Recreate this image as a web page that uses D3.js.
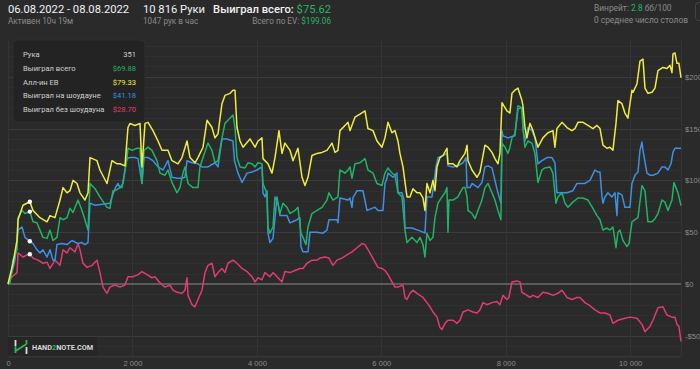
<!DOCTYPE html>
<html>
<head>
<meta charset="utf-8">
<script src="https://cdn.jsdelivr.net/npm/d3@7"></script>
<style>
  body { margin: 0; background: #2a2a2a; }
  svg { display: block; font-family: Roboto, "Noto Sans", sans-serif; }
</style>
</head>
<body>
<svg id="chart" width="700" height="369"></svg>
<script>
// ---------- Data (hands, $) ----------
const allinEv = [
  [0,0],[80,20],[145,42],[161,62],[241,76],[351,79.33],[402,71],[514,64],[627,60],[675,66],[755,64],
  [836,81],[884,93],[948,88],[996,90],[1045,100],[1109,97],[1157,88],[1237,81],[1286,88],[1318,122],
  [1430,119],[1478,110],[1591,97],[1671,119],[1752,116],[1800,116],[1880,114],[1928,151],[1961,155],
  [2041,153],[2121,155],[2153,113],[2202,155],[2250,156],[2330,148],[2411,138],[2475,129],[2571,129],
  [2635,119],[2732,116],[2796,122],[2877,138],[2925,122],[3005,117],[3053,122],[3134,132],[3198,158],
  [3278,151],[3326,141],[3375,145],[3439,174],[3487,182],[3568,184],[3616,187],[3648,187],[3680,151],
  [3729,138],[3777,132],[3889,140],[3970,132],[4018,138],[4082,141],[4098,121],[4178,116],[4243,107],
  [4291,122],[4355,148],[4403,126],[4451,136],[4532,129],[4580,119],[4660,131],[4725,103],[4773,95],
  [4821,103],[4885,124],[4966,126],[5046,127],[5126,129],[5207,136],[5255,127],[5303,129],[5335,148],
  [5416,153],[5464,156],[5496,148],[5576,161],[5657,164],[5737,167],[5785,150],[5866,148],[5930,138],
  [6010,132],[6058,141],[6107,156],[6171,146],[6219,148],[6267,138],[6299,126],[6348,113],[6412,84],
  [6460,84],[6508,92],[6573,88],[6621,88],[6669,83],[6701,71],[6733,97],[6782,88],[6830,100],[6862,90],
  [6894,113],[6942,122],[6991,124],[7055,131],[7071,116],[7152,116],[7216,113],[7264,119],[7345,126],
  [7377,134],[7393,119],[7457,110],[7537,103],[7585,108],[7665,134],[7714,132],[7778,127],[7826,121],
  [7874,116],[7906,126],[7939,175],[8019,167],[8067,165],[8099,184],[8147,187],[8196,189],[8260,177],
  [8276,172],[8308,151],[8340,141],[8388,155],[8437,148],[8517,132],[8597,141],[8678,146],[8758,148],
  [8790,132],[8822,150],[8903,156],[8983,151],[9063,148],[9111,150],[9160,156],[9240,156],[9321,153],
  [9401,150],[9465,153],[9514,150],[9562,134],[9626,131],[9674,132],[9722,129],[9771,155],[9803,177],
  [9867,174],[9915,165],[9963,160],[9996,174],[10028,187],[10044,185],[10108,193],[10157,215],
  [10205,217],[10237,189],[10285,184],[10350,185],[10398,189],[10446,206],[10526,209],[10591,208],
  [10639,211],[10671,204],[10687,222],[10719,223],[10751,213],[10783,213],[10816,199.06]
];

const wonTotal = [
  [0,0],[32,1],[80,23],[145,33],[161,64],[225,71],[273,68],[351,69.88],[402,60],[466,59],[514,52],
  [562,45],[627,44],[675,52],[723,42],[787,45],[836,64],[884,62],[948,64],[996,73],[1045,69],[1125,81],
  [1189,71],[1237,62],[1286,52],[1318,97],[1398,92],[1478,84],[1591,74],[1639,73],[1687,90],[1719,90],
  [1800,93],[1832,93],[1912,122],[1928,131],[1993,129],[2073,131],[2121,131],[2153,97],[2186,129],
  [2250,132],[2314,129],[2394,119],[2443,107],[2523,105],[2571,110],[2635,98],[2716,88],[2764,93],
  [2812,107],[2844,113],[2893,97],[2973,93],[3053,93],[3085,113],[3134,122],[3214,136],[3278,129],
  [3326,117],[3375,119],[3439,141],[3487,155],[3535,158],[3616,163],[3648,151],[3680,122],[3729,113],
  [3809,112],[3857,117],[3921,116],[3970,113],[4018,117],[4082,116],[4098,97],[4130,92],[4162,88],
  [4178,55],[4210,49],[4259,55],[4291,84],[4339,78],[4371,68],[4419,78],[4484,74],[4532,68],[4612,71],
  [4660,74],[4708,49],[4741,45],[4789,38],[4821,55],[4885,68],[4966,71],[5046,74],[5126,81],[5158,88],
  [5223,81],[5303,84],[5335,110],[5416,107],[5464,110],[5496,113],[5528,102],[5576,116],[5657,117],
  [5737,121],[5785,110],[5866,107],[5930,97],[6010,95],[6058,107],[6107,112],[6171,107],[6219,105],
  [6267,88],[6332,84],[6380,52],[6412,40],[6492,45],[6573,40],[6621,45],[6669,38],[6701,26],[6733,49],
  [6782,42],[6830,45],[6862,64],[6910,78],[6974,84],[7023,88],[7055,93],[7071,50],[7087,81],[7152,81],
  [7232,84],[7264,88],[7312,93],[7345,93],[7377,84],[7393,71],[7457,68],[7505,63],[7553,71],[7617,81],
  [7665,93],[7714,97],[7778,88],[7826,81],[7874,71],[7922,62],[7939,136],[7987,132],[8035,126],
  [8067,132],[8099,141],[8147,145],[8196,172],[8260,170],[8276,151],[8308,132],[8356,138],[8420,136],
  [8469,126],[8517,98],[8581,110],[8629,112],[8710,113],[8758,107],[8806,78],[8838,84],[8903,88],
  [8951,78],[8999,74],[9079,79],[9160,83],[9240,83],[9321,81],[9401,73],[9465,66],[9514,62],[9562,52],
  [9626,54],[9674,52],[9722,55],[9755,42],[9771,35],[9803,50],[9835,52],[9883,42],[9947,36],[9980,39],
  [10028,60],[10076,62],[10124,64],[10189,95],[10237,90],[10285,60],[10350,60],[10398,63],[10446,68],
  [10510,81],[10558,79],[10607,71],[10671,81],[10703,98],[10735,93],[10767,88],[10816,75.62]
];

const showdown = [
  [0,0],[64,11],[112,23],[161,52],[225,55],[273,45],[351,41.18],[402,39],[466,33],[514,30],[562,33],
  [627,26],[675,33],[723,23],[755,23],[787,38],[868,39],[948,38],[1028,42],[1125,39],[1189,40],
  [1237,38],[1286,40],[1318,78],[1398,76],[1639,78],[1671,84],[1719,92],[1768,97],[1800,93],[1848,97],
  [1912,121],[1961,122],[2041,122],[2089,121],[2153,97],[2186,122],[2250,122],[2330,119],[2411,113],
  [2491,110],[2571,119],[2635,103],[2716,102],[2796,102],[2844,103],[2877,119],[2957,117],[3053,116],
  [3118,113],[3214,113],[3326,117],[3375,113],[3439,140],[3519,140],[3616,138],[3640,119],[3696,107],
  [3761,98],[3841,107],[3921,108],[4002,110],[4082,113],[4098,88],[4130,84],[4162,90],[4178,49],
  [4210,40],[4259,44],[4323,84],[4371,66],[4484,66],[4532,59],[4644,62],[4692,64],[4708,36],[4741,31],
  [4821,31],[4853,50],[4966,50],[5062,49],[5126,52],[5158,62],[5287,62],[5303,59],[5335,83],[5464,81],
  [5496,83],[5528,74],[5544,83],[5609,90],[5705,90],[5769,71],[5850,73],[5898,74],[5946,71],[6026,71],
  [6058,97],[6091,102],[6107,107],[6187,103],[6251,107],[6267,88],[6332,88],[6364,81],[6380,54],
  [6492,54],[6589,52],[6669,50],[6701,49],[6733,84],[6814,84],[6878,113],[6910,122],[6991,124],
  [7055,126],[7071,114],[7152,113],[7232,114],[7312,117],[7361,122],[7377,93],[7425,93],[7457,97],
  [7553,93],[7617,98],[7665,113],[7714,114],[7778,112],[7826,100],[7874,88],[7922,78],[7939,148],
  [7955,143],[8035,141],[8147,143],[8196,169],[8260,170],[8276,150],[8308,138],[8356,151],[8420,148],
  [8469,141],[8517,116],[8581,119],[8662,122],[8742,122],[8790,117],[8822,88],[8870,88],[8983,88],
  [9079,90],[9144,97],[9192,97],[9272,97],[9353,100],[9433,110],[9481,108],[9514,108],[9546,84],
  [9562,78],[9594,84],[9642,88],[9706,84],[9755,88],[9787,66],[9803,88],[9867,86],[9915,74],[9996,74],
  [10028,97],[10076,105],[10124,108],[10157,129],[10189,137],[10205,129],[10269,107],[10317,105],
  [10366,105],[10446,107],[10510,113],[10558,113],[10607,110],[10655,116],[10687,127],[10719,131],
  [10767,131],[10816,131]
];

const noShowdown = [
  [0,0],[64,7],[145,11],[161,30],[241,26],[305,28],[351,28.70],[402,25],[482,23],[562,20],[627,21],
  [675,15],[755,23],[836,18],[884,33],[948,30],[996,35],[1077,31],[1125,39],[1157,33],[1205,20],
  [1270,16],[1350,18],[1430,23],[1478,11],[1527,-3],[1591,-9],[1639,-3],[1719,-1],[1800,-3],[1880,-1],
  [1928,7],[2009,7],[2089,9],[2153,12],[2234,9],[2314,6],[2362,7],[2443,1],[2523,-3],[2603,-1],
  [2652,-6],[2716,-8],[2796,-9],[2844,-6],[2877,6],[2893,-11],[2957,-20],[3005,-22],[3053,-15],
  [3118,-6],[3166,11],[3214,18],[3278,20],[3326,7],[3375,11],[3439,15],[3487,11],[3535,20],[3616,23],
  [3680,20],[3761,15],[3841,12],[3921,7],[3970,2],[4018,6],[4082,4],[4130,11],[4210,7],[4259,11],
  [4339,6],[4403,2],[4451,12],[4532,11],[4612,13],[4692,15],[4741,15],[4805,20],[4885,23],[4966,23],
  [5014,25],[5094,26],[5158,25],[5223,18],[5287,23],[5367,25],[5448,28],[5528,31],[5609,35],[5689,39],
  [5737,38],[5817,30],[5898,21],[5946,16],[6010,15],[6058,13],[6107,9],[6171,2],[6219,-3],[6267,-3],
  [6348,-1],[6380,-13],[6412,-15],[6460,-9],[6508,-6],[6573,-9],[6621,-11],[6669,-13],[6733,-18],
  [6782,-22],[6830,-27],[6894,-32],[6942,-42],[6974,-44],[7023,-38],[7071,-35],[7152,-35],[7216,-38],
  [7264,-35],[7312,-27],[7393,-25],[7473,-27],[7537,-28],[7585,-25],[7634,-18],[7698,-20],[7778,-18],
  [7858,-17],[7906,-20],[7955,-11],[8019,-15],[8051,-13],[8099,2],[8180,3],[8228,2],[8260,-8],
  [8340,-11],[8388,-13],[8437,-11],[8517,-13],[8597,-8],[8678,-9],[8758,-11],[8838,-9],[8903,-6],
  [8983,-13],[9063,-15],[9144,-13],[9192,-13],[9272,-18],[9353,-21],[9433,-25],[9514,-28],[9594,-28],
  [9674,-30],[9722,-38],[9803,-35],[9915,-33],[9996,-32],[10108,-33],[10189,-39],[10237,-46],
  [10317,-41],[10366,-35],[10446,-23],[10526,-22],[10591,-30],[10671,-32],[10719,-32],[10751,-39],
  [10783,-41],[10816,-55.4]
];

const series = [
  { name: "Выиграл без шоудауна", color: "#e23a72", data: noShowdown },
  { name: "Выиграл на шоудауне", color: "#3d90e2", data: showdown },
  { name: "Выиграл всего", color: "#1fb466", data: wonTotal },
  { name: "Алл-ин EВ", color: "#eeee3e", data: allinEv }
];
const tooltipOrder = ["Выиграл всего", "Алл-ин EВ", "Выиграл на шоудауне", "Выиграл без шоудауна"];
const hoverHand = 351;
const xTicks = [0, 2000, 4000, 6000, 8000, 10000];
const yTicks = [-50, 0, 50, 100, 150, 200];

const header = {
  dates: "06.08.2022 - 08.08.2022", active: "Активен 10ч 19м",
  hands: "10 816 Руки", perHour: "1047 рук в час",
  winrate: "2.8", tables: "0 среднее число столов"
};

// ---------- Setup ----------
const svg = d3.select("#chart");
const W = 700, H = 369;
const plot = { left: 8, right: 681, top: 40.5, bottom: 356.5 };
const GREEN = "#25b56b";

const loc = d3.formatLocale({ decimal: ".", thousands: "\u00a0", grouping: [3], currency: ["$", ""] });
const money = v => (v < 0 ? "-$" : "$") + Math.abs(v).toFixed(2);

const x = d3.scaleLinear().domain([0, 10816]).range([plot.left, plot.right]);
const y = d3.scaleLinear().domain([-70, 235]).range([plot.bottom, plot.top]);

svg.append("rect").attr("width", W).attr("height", H).attr("fill", "#2a2a2a");

// ---------- Grid ----------
const grid = svg.append("g");
grid.selectAll(".minor")
  .data(d3.range(-70, 236, 10).filter(v => v % 50 !== 0))
  .join("line")
  .attr("x1", plot.left).attr("x2", plot.right)
  .attr("y1", d => Math.round(y(d)) + 0.5).attr("y2", d => Math.round(y(d)) + 0.5)
  .attr("stroke", "#303030");

grid.selectAll(".major")
  .data(yTicks.filter(v => v !== 0))
  .join("line")
  .attr("x1", plot.left).attr("x2", plot.right)
  .attr("y1", d => Math.round(y(d)) + 0.5).attr("y2", d => Math.round(y(d)) + 0.5)
  .attr("stroke", "#3c3c3c");

grid.selectAll(".vx")
  .data(xTicks.concat([10816]))
  .join("line")
  .attr("x1", d => Math.round(x(d)) + 0.5).attr("x2", d => Math.round(x(d)) + 0.5)
  .attr("y1", plot.top).attr("y2", plot.bottom)
  .attr("stroke", "#343434");

grid.append("line")
  .attr("x1", plot.left).attr("x2", plot.right)
  .attr("y1", plot.bottom).attr("y2", plot.bottom)
  .attr("stroke", "#343434");

// zero line
grid.append("line")
  .attr("x1", plot.left).attr("x2", plot.right)
  .attr("y1", y(0)).attr("y2", y(0))
  .attr("stroke", "#6c6c6c").attr("stroke-width", 1.6);

// ---------- Axes ----------
const yAxis = svg.append("g")
  .attr("transform", `translate(${plot.right},0)`)
  .call(d3.axisRight(y).tickValues(yTicks).tickSize(0).tickPadding(4)
    .tickFormat(d => (d < 0 ? "-$" : "$") + Math.abs(d)));
const xAxis = svg.append("g")
  .attr("transform", `translate(0,${plot.bottom})`)
  .call(d3.axisBottom(x).tickValues(xTicks).tickSize(0).tickPadding(4).tickFormat(loc.format(",")));

[xAxis, yAxis].forEach(a => {
  a.select(".domain").remove();
  a.selectAll("text").attr("fill", "#8c8c8c").attr("font-size", 7.6);
});

// ---------- Logo ----------
const logo = svg.append("g");
logo.append("rect").attr("x", 8).attr("y", 337).attr("width", 89).attr("height", 19)
  .attr("fill", "#262626");
logo.append("path").attr("d", "M15.5,340 V346 M26.5,347 V354")
  .attr("stroke", "#dddddd").attr("stroke-width", 1.8).attr("fill", "none");
logo.append("path").attr("d", "M15.5,346 V353 M15.5,351 L26.5,344 M26.5,344 V340")
  .attr("stroke", "#2db45f").attr("stroke-width", 1.8).attr("fill", "none");
const lt = logo.append("text").attr("x", 32).attr("y", 350)
  .attr("font-size", 7.3).attr("font-weight", 700).attr("fill", "#d8d8d8");
lt.append("tspan").text("HAND");
lt.append("tspan").attr("fill", "#2db45f").text("2");
lt.append("tspan").text("NOTE.COM");

// ---------- Lines ----------
const line = d3.line().x(d => x(d[0])).y(d => y(d[1]));
svg.append("g").selectAll("path")
  .data(series)
  .join("path")
  .attr("d", d => line(d.data))
  .attr("fill", "none")
  .attr("stroke", d => d.color)
  .attr("stroke-width", 1.5)
  .attr("stroke-linejoin", "round");

// hover dots
const hoverVal = s => s.data.find(p => p[0] === hoverHand)[1];
svg.append("g").selectAll("circle")
  .data(series)
  .join("circle")
  .attr("cx", x(hoverHand))
  .attr("cy", d => y(hoverVal(d)))
  .attr("r", 2.2)
  .attr("fill", "#ffffff");

// ---------- Tooltip ----------
const tip = svg.append("g");
tip.append("rect").attr("x", 13).attr("y", 40).attr("width", 132).attr("height", 82).attr("rx", 4)
  .attr("fill", "#232323").attr("stroke", "#2f2f2f");
const rows = [{ label: "Рука", value: String(hoverHand), color: "#cfcfcf" }]
  .concat(tooltipOrder.map(n => {
    const s = series.find(k => k.name === n);
    return { label: n, value: money(hoverVal(s)), color: s.color };
  }));
const rowG = tip.selectAll(".row").data(rows).join("g")
  .attr("transform", (d, i) => `translate(0,${57 + i * 13.8})`);
rowG.append("text").attr("x", 23).attr("font-size", 7.6).attr("fill", "#d0d0d0").text(d => d.label);
rowG.append("text").attr("x", 136).attr("text-anchor", "end").attr("font-size", 7.6)
  .attr("fill", d => d.color).text(d => d.value);

// ---------- Header ----------
const last = arr => arr[arr.length - 1][1];
const hdr = svg.append("g");
hdr.append("text").attr("x", 8).attr("y", 13).attr("font-size", 11.2).attr("fill", "#f2f2f2").text(header.dates);
hdr.append("text").attr("x", 8).attr("y", 24).attr("font-size", 8.2).attr("fill", "#8a8a8a").text(header.active);
hdr.append("text").attr("x", 143).attr("y", 13).attr("font-size", 11.2).attr("fill", "#f2f2f2").text(header.hands);
hdr.append("text").attr("x", 143).attr("y", 24).attr("font-size", 8.2).attr("fill", "#8a8a8a").text(header.perHour);

const won = hdr.append("text").attr("x", 331).attr("y", 13).attr("text-anchor", "end")
  .attr("font-size", 11.2).attr("fill", "#f2f2f2");
won.append("tspan").attr("font-weight", 500).text("Выиграл всего: ");
won.append("tspan").attr("fill", GREEN).text(money(last(wonTotal)));

const ev = hdr.append("text").attr("x", 331).attr("y", 24).attr("text-anchor", "end")
  .attr("font-size", 8.2).attr("fill", "#8a8a8a");
ev.append("tspan").text("Всего по EV: ");
ev.append("tspan").attr("fill", GREEN).text(money(last(allinEv)));

const wr = hdr.append("text").attr("x", 594).attr("y", 11).attr("font-size", 8.4).attr("fill", "#8a8a8a");
wr.append("tspan").text("Винрейт: ");
wr.append("tspan").attr("fill", GREEN).text(header.winrate);
wr.append("tspan").text(" бб/100");
hdr.append("text").attr("x", 594).attr("y", 23).attr("font-size", 8.4).attr("fill", "#8a8a8a").text(header.tables);

// edge of settings button
hdr.append("rect").attr("x", 695.5).attr("y", 2.5).attr("width", 12).attr("height", 18).attr("rx", 3)
  .attr("fill", "none").attr("stroke", "#444");
</script>
</body>
</html>
